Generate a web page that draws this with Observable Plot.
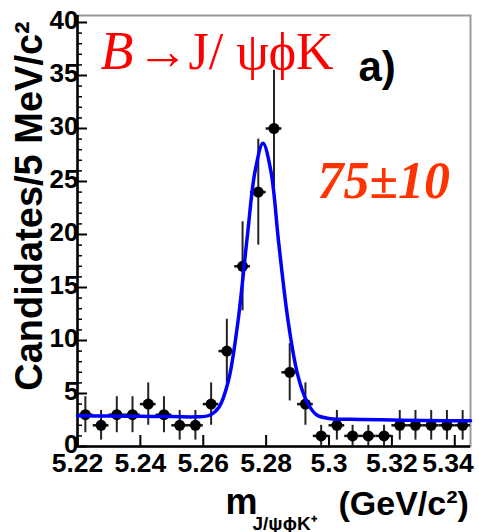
<!DOCTYPE html>
<html>
<head>
<meta charset="utf-8">
<script src="https://cdn.jsdelivr.net/npm/d3@7"></script>
<script src="https://cdn.jsdelivr.net/npm/@observablehq/plot@0.6"></script>
<style>
  html, body { margin: 0; padding: 0; background: white; }
</style>
</head>
<body>
<div id="chart"></div>
<script>
// ---- data ----
const binCenters = [5.2225, 5.2275, 5.2325, 5.2375, 5.2425, 5.2475, 5.2525, 5.2575, 5.2625, 5.2675,
                    5.2725, 5.2775, 5.2825, 5.2875, 5.2925, 5.2975, 5.3025, 5.3075, 5.3125, 5.3175,
                    5.3225, 5.3275, 5.3325, 5.3375, 5.3425];
const counts = [3, 2, 3, 3, 4, 3, 2, 2, 4, 9, 17, 24, 30, 7, 4, 1, 2, 1, 1, 1, 2, 2, 2, 2, 2];
const errors = [1.7, 1.4, 1.7, 1.7, 2, 1.7, 1.4, 1.4, 2, 3, 4.2, 5, 5.5, 2.7, 2, 1, 1.4, 1, 1, 1, 1.4, 1.4, 1.4, 1.4, 1.4];
const binWidth = 0.005;

// fitted curve
const curveMass  = [5.220, 5.230, 5.240, 5.250, 5.258, 5.262, 5.265, 5.268, 5.271, 5.274, 5.2765, 5.279,
                    5.2815, 5.284, 5.287, 5.290, 5.293, 5.296, 5.300, 5.310, 5.320, 5.330, 5.345];
const curveValue = [2.90, 2.88, 2.85, 2.82, 2.80, 2.95, 3.7, 6.2, 11.7, 19.8, 26.0, 28.6,
                    26.0, 19.2, 11.8, 6.8, 4.2, 3.0, 2.65, 2.55, 2.5, 2.45, 2.42];

const xTicks = [5.22, 5.24, 5.26, 5.28, 5.30, 5.32, 5.34];
const xTickLabels = ["5.22", "5.24", "5.26", "5.28", "5.3", "5.32", "5.34"];
const yTicks = [0, 5, 10, 15, 20, 25, 30, 35, 40];
const yMinorTicks = d3.range(0, 41).filter(v => v % 5 !== 0);

const xDomain = [5.22, 5.345];
const yDomain = [0, 40.66];

const titleB = "B";
const titleRest = "\u2192J/ \u03C8\u03D5K";
const panelLabel = "a)";
const yieldLabel = "75\u00B110";
const yLabel = "Candidates/5 MeV/c\u00B2";
const xLabelMain = "m";
const xLabelSub = "J/\u03C8\u03D5K\u207A";
const xLabelUnit = "(GeV/c\u00B2)";

// ---- build ----
const points = binCenters.map((m, i) => ({m, c: counts[i], e: errors[i]}));
const curve = curveMass.map((m, i) => ({m, v: curveValue[i]}));
const xLabelRows = xTicks.map((x, i) => ({x, label: xTickLabels[i]}));
const lastX = xLabelRows.length - 1;

const W = 479, H = 532;
const mL = 77, mR = 9, mT = 15, mB = 86;
const innerW = W - mL - mR, innerH = H - mT - mB;

const sans = "Liberation Sans, Arial, Helvetica, sans-serif";
const serif = "Liberation Serif, Times New Roman, serif";

const chart = Plot.plot({
  width: W,
  height: H,
  marginLeft: mL,
  marginRight: mR,
  marginTop: mT,
  marginBottom: mB,
  style: {background: "white", fontFamily: sans},
  x: {domain: xDomain, axis: null},
  y: {domain: yDomain, axis: null},
  marks: [
    Plot.frame({stroke: "#999", strokeWidth: 2}),
    // inward ticks
    Plot.tickY(yTicks, {y: d => d, insetRight: innerW - 10, stroke: "black", strokeWidth: 2}),
    Plot.tickY(yMinorTicks, {y: d => d, insetRight: innerW - 5, stroke: "black", strokeWidth: 1.5}),
    Plot.tickX(xTicks, {x: d => d, insetTop: innerH - 11, stroke: "black", strokeWidth: 2}),
    Plot.ruleX([xDomain[0]], {stroke: "black", strokeWidth: 2.5}),
    Plot.ruleY([0], {stroke: "black", strokeWidth: 2.5}),
    // tick labels
    Plot.text(yTicks, {y: d => d, frameAnchor: "left", text: d => String(d), textAnchor: "end",
      dx: 1, dy: -2, fontSize: 26, fontWeight: "bold", fill: "black"}),
    Plot.text(xLabelRows.slice(0, lastX), {x: "x", frameAnchor: "bottom", text: "label",
      lineAnchor: "top", dy: 7, fontSize: 26.5, fontWeight: "bold", fill: "black"}),
    Plot.text(xLabelRows.slice(lastX), {x: "x", frameAnchor: "bottom", text: "label", textAnchor: "end",
      lineAnchor: "top", dx: 19, dy: 7, fontSize: 26.5, fontWeight: "bold", fill: "black"}),
    // error bars and markers
    Plot.ruleX(points, {x: "m", y1: d => d.c - d.e, y2: d => d.c + d.e, stroke: "#222", strokeWidth: 2}),
    Plot.ruleY(points, {y: "c", x1: d => d.m - binWidth / 2, x2: d => d.m + binWidth / 2, stroke: "#111", strokeWidth: 2.5}),
    Plot.dot(points, {x: "m", y: "c", r: 5.5, fill: "black", stroke: "none"}),
    // fit curve
    Plot.line(curve, {x: "m", y: "v", stroke: "#0000ff", strokeWidth: 3.5, curve: "catmull-rom"}),
    // annotations
    Plot.text([titleB], {frameAnchor: "top-left", text: d => d, textAnchor: "start", lineAnchor: "bottom",
      dx: 23, dy: 53, fontSize: 54, fontStyle: "italic", fontFamily: serif, fill: "#ff0000"}),
    Plot.text([titleRest], {frameAnchor: "top-left", text: d => d, textAnchor: "start", lineAnchor: "bottom",
      dx: 59, dy: 53, fontSize: 52, fontFamily: serif, fill: "#ff0000"}),
    Plot.text([panelLabel], {frameAnchor: "top-left", text: d => d, textAnchor: "start", lineAnchor: "bottom",
      dx: 281, dy: 65, fontSize: 42, fontWeight: "bold", fontFamily: sans, fill: "black"}),
    Plot.text([yieldLabel], {frameAnchor: "top-left", text: d => d, textAnchor: "start", lineAnchor: "bottom",
      dx: 240, dy: 182, fontSize: 52, fontWeight: "bold", fontStyle: "italic", fontFamily: serif, fill: "#ff3300"}),
    // axis titles
    Plot.text([yLabel], {frameAnchor: "left", text: d => d, rotate: -90, textAnchor: "middle",
      lineAnchor: "bottom", dx: -36, dy: -25, fontSize: 38, fontWeight: "bold", fill: "black"}),
    Plot.text([xLabelMain], {frameAnchor: "bottom-left", text: d => d, textAnchor: "start", lineAnchor: "bottom",
      dx: 148, dy: 67, fontSize: 36, fontWeight: "bold", fill: "black"}),
    Plot.text([xLabelSub], {frameAnchor: "bottom-left", text: d => d, textAnchor: "start", lineAnchor: "bottom",
      dx: 175, dy: 83, fontSize: 19, fontWeight: "bold", fill: "black"}),
    Plot.text([xLabelUnit], {frameAnchor: "bottom-left", text: d => d, textAnchor: "start", lineAnchor: "bottom",
      dx: 261, dy: 68, fontSize: 34, fontWeight: "bold", fill: "black"})
  ]
});

document.getElementById("chart").appendChild(chart);
</script>
</body>
</html>
